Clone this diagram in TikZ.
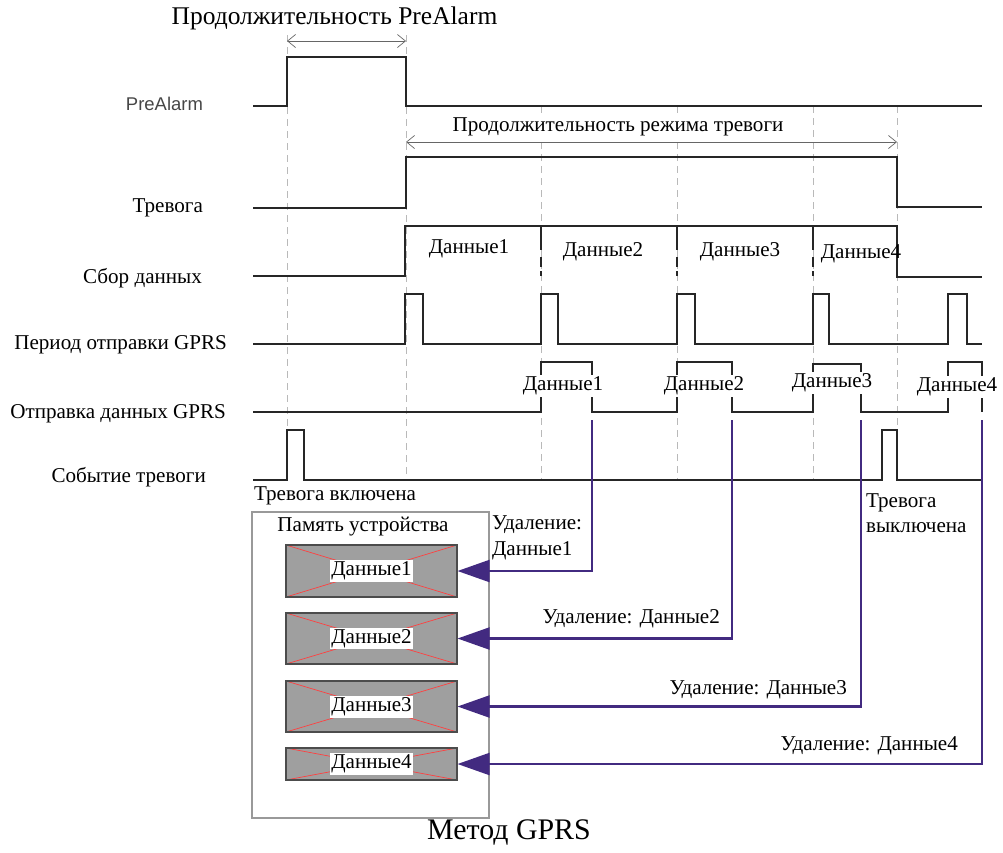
\documentclass[tikz,border=0pt]{standalone}
\usepackage{fontspec}
\setmainfont{Liberation Serif}
\setsansfont{Liberation Sans}
\usepackage{tikz}
\usetikzlibrary{arrows.meta, positioning, calc}
\definecolor{delcol}{RGB}{66,42,128}

\begin{document}
\begin{tikzpicture}[
        x=0.2mm, y=-0.2mm,
        sig/.style={line width=1.1pt, draw=black!85},
        guide/.style={draw=gray!55, line width=0.5pt, dash pattern=on 0.14cm off 0.1cm},
        sep/.style={line width=1.1pt, draw=black!85, dash pattern=on 0.48cm off 0.14cm on 0.2cm off 0.08cm},
        dim/.style={{Straight Barb[length=1.6mm,width=2.6mm]}-{Straight Barb[length=1.6mm,width=2.6mm]}, draw=gray!80!black, line width=0.4pt},
        lbl/.style={font=\fontsize{12}{14.5}\selectfont, inner sep=1pt},
        tag/.style={lbl, fill=white},
        row/.style={lbl, anchor=east},
        memframe/.style={rectangle, draw=gray!80, line width=0.6pt, minimum width=4.74cm, minimum height=6.12cm},
        membox/.style={rectangle, draw=gray!60!black, fill=gray!75, line width=0.6pt, minimum width=3.42cm,
            path picture={\draw[red!75, line width=0.4pt] (path picture bounding box.north west) -- (path picture bounding box.south east)
                (path picture bounding box.south west) -- (path picture bounding box.north east);}},
        del/.style={-{Triangle[length=0.64cm,width=0.44cm]}, line width=1.2pt, draw=delcol}
    ]
        \useasboundingbox (0,0) rectangle (1003,852);
        % guide lines
        \draw[guide] (287,35) -- (287,430);
        \draw[guide] (406,35) -- (406,480);
        \foreach \gx in {541,677,813} \draw[guide] (\gx,106) -- (\gx,480);
        \draw[guide] (897,106) -- (897,430);
        % row names
        \node[row, font=\sffamily\fontsize{10.5}{12}\selectfont, text=gray!55!black] (nPre) at (205,104) {PreAlarm};
        \node[row] (nAlarm) at (205,208) {Тревога};
        \node[row] (nCollect) at (204,278) {Сбор данных};
        \node[row] (nPeriod) at (229,345) {Период отправки GPRS};
        \node[row] (nSend) at (228,414) {Отправка данных GPRS};
        \node[row] (nEvent) at (208,477) {Событие тревоги};
        % signals
        \draw[sig] (253,106) -| (287,57) -| (406,106) -- (982,106);
        \draw[sig] (253,208) -| (406,157) -| (897,207) -- (982,207);
        \draw[sig] (253,276) -| (405,226) -| (897,277) -- (982,277);
        \foreach \gx in {541,677,813} \draw[sep] (\gx,226) -- (\gx,276);
        \draw[sig] (253,344) -| (405,294) -| (423,344) -| (541,294) -| (558,344) -| (677,294) -| (695,344)
            -| (813,294) -| (829,344) -| (948,294) -| (967,344) -- (982,344);
        \draw[sig] (253,412) -| (541,362) -| (592,412) -| (677,362) -| (732,412) -| (813,364) -| (861,412)
            -| (948,362) -| (982,412);
        \draw[sig] (253,480) -| (287,430) -| (304,480) -| (882,430) -| (897,480) -- (982,480);
        % durations
        \coordinate (preA) at (287,41);
        \coordinate (preB) at (406,41);
        \coordinate (almA) at (406,142);
        \coordinate (almB) at (897,142);
        \draw[dim] (preA) -- (preB);
        \draw[dim] (almA) -- (almB);
        \node[lbl, font=\fontsize{14.5}{17}\selectfont] (tPre) at (334.5,18) {Продолжительность PreAlarm};
        \node[tag] (tAlarm) at (618,127) {Продолжительность режима тревоги};
        % data labels
        \node[lbl] (c1) at (469,249) {Данные1};
        \node[lbl] (c2) at (603,252) {Данные2};
        \node[lbl] (c3) at (740,252) {Данные3};
        \node[lbl] (c4) at (861,254) {Данные4};
        \node[tag] (s1) at (563,386) {Данные1};
        \node[tag] (s2) at (704,386) {Данные2};
        \node[tag] (s3) at (832,383) {Данные3};
        \node[tag] (s4) at (957,387) {Данные4};
        \node[lbl, anchor=west] (on) at (252,496) {Тревога включена};
        \node[lbl, anchor=west, align=left] (off) at (864,513) {Тревога\\выключена};
        % device memory
        \node[memframe] (mem) at (370.5,665) {};
        \node[lbl] (memtitle) at (363,527) {Память устройства};
        \node[membox, minimum height=1.04cm] (mem1) at (371.5,571) {};
        \node[membox, minimum height=1.02cm] (mem2) at (371.5,638.5) {};
        \node[membox, minimum height=1.02cm] (mem3) at (371.5,706.5) {};
        \node[membox, minimum height=0.64cm] (mem4) at (371.5,764) {};
        \foreach \i in {1,...,4} \node[tag] at (mem\i) {Данные\i};
        % deletion
        \coordinate (out1) at (592,420);
        \coordinate (out2) at (732,420);
        \coordinate (out3) at (861,420);
        \coordinate (out4) at (982,420);
        \draw[del] (out1) |- (mem1.east);
        \draw[del] (out2) |- (mem2.east);
        \draw[del] (out3) |- (mem3.east);
        \draw[del] (out4) |- (mem4.east);
        \node[lbl, anchor=west, align=left] (d1) at (490,538) {Удаление:\\Данные1};
        \node[lbl, anchor=east] (d2) at (722,619) {Удаление: Данные2};
        \node[lbl, anchor=east] (d3) at (849,690) {Удаление: Данные3};
        \node[lbl, anchor=east] (d4) at (960,746) {Удаление: Данные4};
        \node[font=\fontsize{17}{20}\selectfont] (title) at (509,832) {Метод GPRS};
    \end{tikzpicture}
\end{document}
